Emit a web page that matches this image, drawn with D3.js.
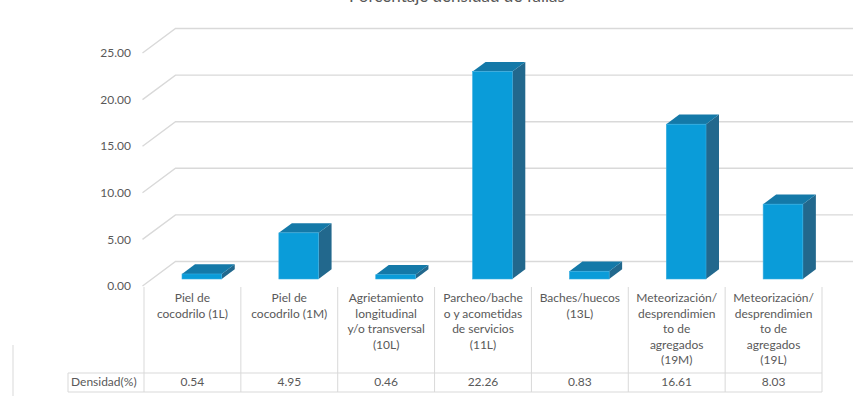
<!DOCTYPE html>
<html><head><meta charset="utf-8">
<script src="https://cdn.jsdelivr.net/npm/d3@7"></script>
<style>
html,body{margin:0;padding:0;background:#fff;}
svg{display:block;font-family:Lato,"Open Sans",sans-serif;}
</style></head>
<body><svg id="c" width="853" height="396"></svg>
<script>
const title = "Porcentaje densidad de fallas";
const categories = [
  ["Piel de","cocodrilo (1L)"],
  ["Piel de","cocodrilo (1M)"],
  ["Agrietamiento","longitudinal","y/o transversal","(10L)"],
  ["Parcheo/bache","o y acometidas","de servicios","(11L)"],
  ["Baches/huecos","(13L)"],
  ["Meteorización/","desprendimien","to de","agregados","(19M)"],
  ["Meteorización/","desprendimien","to de","agregados","(19L)"]
];
const values = [0.54, 4.95, 0.46, 22.26, 0.83, 16.61, 8.03];
const valueLabels = ["0.54","4.95","0.46","22.26","0.83","16.61","8.03"];
const seriesName = "Densidad(%)";
const yTicks = [0, 5, 10, 15, 20, 25];

const svg = d3.select("#c");
const textColor = "#595959", gridColor = "#d9d9d9";
const DX = 33, DY = 24.5;           // depth of the 3D floor
const f1 = 0.286, f2 = 0.68;         // bar depth fractions
const x = d3.scaleBand().domain(d3.range(values.length)).range([144, 822]).paddingInner(0).paddingOuter(0);
const y = d3.scaleLinear().domain([0, 25]).range([286, 53]);
const xFront = 142.5;

// title (cut off at top, as in the reference)
svg.append("text").attr("x", 457).attr("y", 1.5).attr("text-anchor", "middle")
  .attr("font-size", 17).attr("fill", textColor).text(title);

// gridlines (back wall + side diagonal)
const g = svg.append("g").attr("fill", "none").attr("stroke", gridColor).attr("stroke-width", 1.4);
yTicks.forEach(t => {
  const yf = y(t), yb = yf - DY;
  g.append("path").attr("d", `M${xFront},${yf}L${xFront + DX},${yb}L853,${yb}`);
});

// y tick labels
svg.append("g").selectAll("text").data(yTicks).join("text")
  .attr("x", 131).attr("y", d => y(d)).attr("dy", "0.35em")
  .attr("text-anchor", "end").attr("font-size", 12).attr("fill", textColor)
  .text(d => d3.format(".2f")(d));

// bars
const bw = x.bandwidth() * 0.41;
const dxd = (f2 - f1) * DX, dyd = (f2 - f1) * DY;
const bars = svg.append("g");
values.forEach((v, i) => {
  const cx = x(i) + x.bandwidth() / 2 + f1 * DX;
  const xl = cx - bw / 2, xr = cx + bw / 2;
  const yt = y(v) - f1 * DY, yb = y(0) - f1 * DY;
  const b = bars.append("g");
  b.append("path").attr("fill", "#22688d")
    .attr("d", `M${xr},${yt}L${xr + dxd},${yt - dyd}L${xr + dxd},${yb - dyd}L${xr},${yb}Z`);
  b.append("path").attr("fill", "#1479a8")
    .attr("d", `M${xl},${yt}L${xr},${yt}L${xr + dxd},${yt - dyd}L${xl + dxd},${yt - dyd}Z`);
  b.append("rect").attr("x", xl).attr("y", yt).attr("width", bw).attr("height", yb - yt)
    .attr("fill", "#0a9cd9").attr("stroke", "#39ade0").attr("stroke-width", 0.6);
});

// data table
const tb = svg.append("g").attr("stroke", gridColor).attr("stroke-width", 1).attr("fill", "none");
const rowTop = 373, rowBot = 392;
const bounds = x.domain().map(i => x(i)).concat([x(values.length - 1) + x.bandwidth()]);
bounds.forEach(bx => tb.append("line").attr("x1", bx).attr("x2", bx).attr("y1", 287).attr("y2", rowBot));
tb.append("line").attr("x1", 68).attr("x2", 68).attr("y1", rowTop).attr("y2", rowBot);
tb.append("line").attr("x1", 68).attr("x2", 822).attr("y1", rowTop).attr("y2", rowTop);
tb.append("line").attr("x1", 68).attr("x2", 822).attr("y1", rowBot).attr("y2", rowBot);
// outer chart border fragment
svg.append("line").attr("x1", 13).attr("x2", 13).attr("y1", 345).attr("y2", 396)
  .attr("stroke", gridColor).attr("stroke-width", 1);

const lab = svg.append("g").attr("font-size", 12).attr("fill", textColor).attr("text-anchor", "middle");
categories.forEach((lines, i) => {
  const t = lab.append("text").attr("x", x(i) + x.bandwidth() / 2).attr("y", 298).attr("dy", "0.35em");
  lines.forEach((ln, k) => t.append("tspan").attr("x", x(i) + x.bandwidth() / 2).attr("y", 298 + k * 15.5).attr("dy", "0.35em").text(ln));
});
valueLabels.forEach((s, i) => {
  lab.append("text").attr("x", x(i) + x.bandwidth() / 2).attr("y", 382).attr("dy", "0.35em").text(s);
});
svg.append("text").attr("x", 71).attr("y", 382).attr("dy", "0.35em").attr("font-size", 12)
  .attr("fill", textColor).text(seriesName);
</script>
</body></html>
